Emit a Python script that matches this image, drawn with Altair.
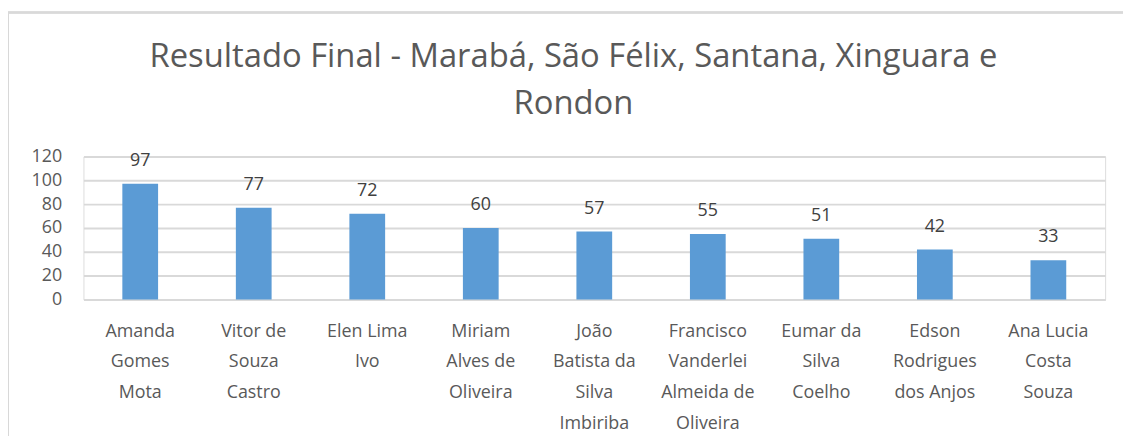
import altair as alt
import pandas as pd

names = [
    "Amanda|Gomes|Mota",
    "Vitor de|Souza|Castro",
    "Elen Lima|Ivo",
    "Miriam|Alves de|Oliveira",
    "João|Batista da|Silva|Imbiriba",
    "Francisco|Vanderlei|Almeida de|Oliveira",
    "Eumar da|Silva|Coelho",
    "Edson|Rodrigues|dos Anjos",
    "Ana Lucia|Costa|Souza",
]
scores = [97, 77, 72, 60, 57, 55, 51, 42, 33]
y_ticks = [0, 20, 40, 60, 80, 100, 120]

df = pd.DataFrame({"name": names, "score": scores})

FONT = "Open Sans"
GRAY = "#595959"
BAR = "#5B9BD5"

x = alt.X(
    "name:N",
    sort=None,
    title=None,
    scale=alt.Scale(paddingInner=0, paddingOuter=0),
    axis=alt.Axis(
        labelExpr="split(datum.label, '|')",
        labelAngle=0,
        labelFont=FONT,
        labelFontSize=18,
        labelColor=GRAY,
        labelLineHeight=31,
        labelPadding=23,
        labelOverlap=False,
        ticks=False,
        domainColor="#D9D9D9",
        domainWidth=2,
        labelLimit=200,
    ),
)
y = alt.Y(
    "score:Q",
    title=None,
    scale=alt.Scale(domain=[0, 120], nice=False),
    axis=alt.Axis(
        values=y_ticks,
        labelFont=FONT,
        labelFontSize=18,
        labelColor=GRAY,
        labelPadding=22,
        labelOverlap=False,
        labelFlush=False,
        ticks=False,
        domain=False,
        gridColor="#D9D9D9",
        gridWidth=2,
    ),
)

bars = alt.Chart(df).mark_bar(size=36, color=BAR).encode(x=x, y=y)
labels = alt.Chart(df).mark_text(
    font=FONT, fontSize=18, color="#404040", baseline="alphabetic", dy=-18
).encode(x=x, y=y, text="score:Q")

border = alt.Chart(df).mark_rect(
    fill=None, stroke="#D9D9D9", strokeWidth=1.5, clip=False
).encode(
    x=alt.value(-76), x2=alt.value(1200), y=alt.value(-145), y2=alt.value(400)
)

chart = (
    alt.layer(border, bars, labels)
    .properties(
        width=1029,
        height=144,
        padding={"left": 76, "top": 148, "right": 18, "bottom": 136},
        autosize=alt.AutoSizeParams(type="none"),
        title=alt.TitleParams(
            text=["Resultado Final - Marabá, São Félix, Santana, Xinguara e", "Rondon"],
            font=FONT,
            fontSize=33,
            fontWeight="normal",
            color=GRAY,
            lineHeight=47,
            anchor="middle",
            frame="group",
            dx=-21,
            offset=-110,
        ),
    )
    .configure_view(stroke=None)
    .configure(background="white")
)

chart.save("out.html", embed_options={"renderer": "svg", "actions": False})
